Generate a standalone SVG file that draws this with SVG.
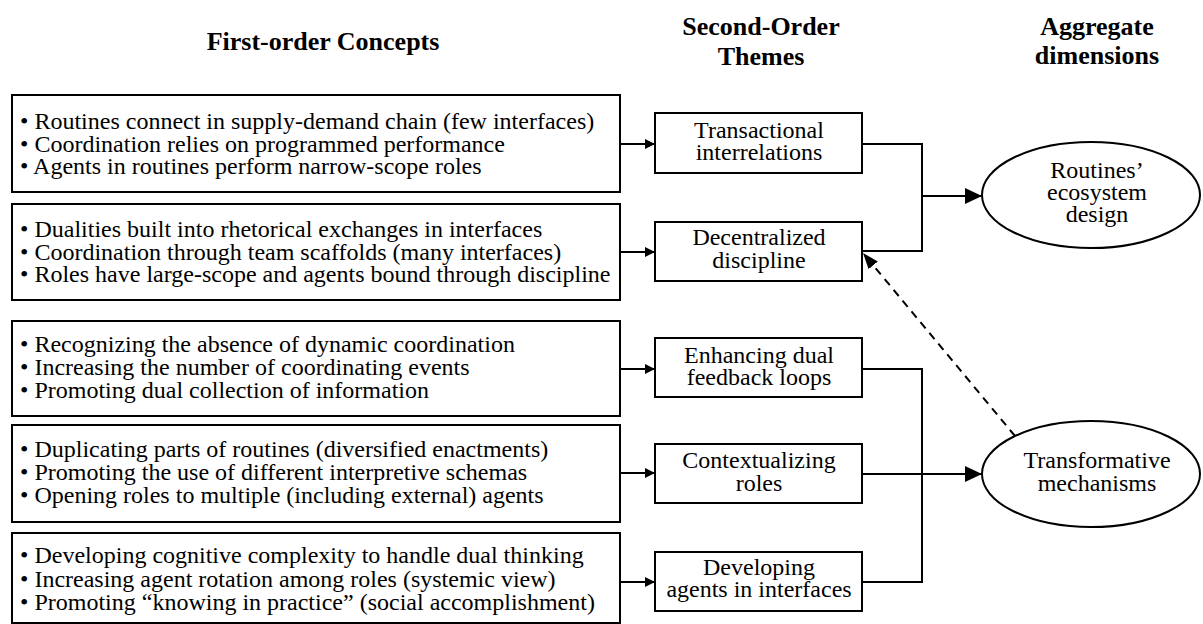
<svg xmlns="http://www.w3.org/2000/svg" width="1203" height="624" viewBox="0 0 1203 624">
  <style>
    .box { fill: #fff; stroke: #000; stroke-width: 2; }
    .ell { fill: #fff; stroke: #000; stroke-width: 2; }
    .t { font-family: "Liberation Serif", "Times New Roman", serif; font-size: 24px; fill: #000; }
    .c { text-anchor: middle; }
    .h { font-family: "Liberation Serif", "Times New Roman", serif; font-size: 26px; font-weight: bold; fill: #000; text-anchor: middle; }
    .ln { fill: none; stroke: #000; stroke-width: 2; }
    .dash { fill: none; stroke: #000; stroke-width: 2; stroke-dasharray: 8 6; }
  </style>
  <defs>
    <marker id="arrSmall" viewBox="0 0 10 10" refX="10" refY="5" markerWidth="10" markerHeight="10" markerUnits="userSpaceOnUse" orient="auto">
      <path d="M0,0 L10,5 L0,10 Z" fill="#000"/>
    </marker>
    <marker id="arrBig" viewBox="0 0 17 16" refX="17" refY="8" markerWidth="17" markerHeight="16" markerUnits="userSpaceOnUse" orient="auto">
      <path d="M0,0 L17,8 L0,16 Z" fill="#000"/>
    </marker>
    <marker id="arrDash" viewBox="0 0 16 12" refX="16" refY="6" markerWidth="16" markerHeight="12" markerUnits="userSpaceOnUse" orient="auto">
      <path d="M0,0 L16,6 L0,12 Z" fill="#000"/>
    </marker>
  </defs>

  <!-- column headings -->
  <g id="headings">
    <text class="h" x="323" y="50">First-order Concepts</text>
    <text class="h" x="761" y="35">Second-Order</text>
    <text class="h" x="761" y="65">Themes</text>
    <text class="h" x="1097" y="35">Aggregate</text>
    <text class="h" x="1097" y="64">dimensions</text>
  </g>

  <!-- first-order concept boxes -->
  <g id="concepts-1">
    <rect class="box" x="12" y="95" width="608" height="97"/>
    <text class="t" x="20" y="129">• Routines connect in supply-demand chain (few interfaces)</text>
    <text class="t" x="20" y="152">• Coordination relies on programmed performance</text>
    <text class="t" x="20" y="174">• Agents in routines perform narrow-scope roles</text>
  </g>
  <g id="concepts-2">
    <rect class="box" x="12" y="204" width="608" height="96"/>
    <text class="t" x="20" y="237">• Dualities built into rhetorical exchanges in interfaces</text>
    <text class="t" x="20" y="260">• Coordination through team scaffolds (many interfaces)</text>
    <text class="t" x="20" y="282">• Roles have large-scope and agents bound through discipline</text>
  </g>
  <g id="concepts-3">
    <rect class="box" x="12" y="321" width="608" height="95"/>
    <text class="t" x="20" y="352">• Recognizing the absence of dynamic coordination</text>
    <text class="t" x="20" y="375">• Increasing the number of coordinating events</text>
    <text class="t" x="20" y="398">• Promoting dual collection of information</text>
  </g>
  <g id="concepts-4">
    <rect class="box" x="12" y="425" width="608" height="97"/>
    <text class="t" x="20" y="457">• Duplicating parts of routines (diversified enactments)</text>
    <text class="t" x="20" y="480">• Promoting the use of different interpretive schemas</text>
    <text class="t" x="20" y="503">• Opening roles to multiple (including external) agents</text>
  </g>
  <g id="concepts-5">
    <rect class="box" x="12" y="533" width="608" height="90"/>
    <text class="t" x="20" y="563">• Developing cognitive complexity to handle dual thinking</text>
    <text class="t" x="20" y="587">• Increasing agent rotation among roles (systemic view)</text>
    <text class="t" x="20" y="610">• Promoting “knowing in practice” (social accomplishment)</text>
  </g>

  <!-- second-order themes -->
  <g id="theme-transactional">
    <rect class="box" x="655" y="113" width="207" height="60"/>
    <text class="t c" x="759" y="138">Transactional</text>
    <text class="t c" x="759" y="160">interrelations</text>
  </g>
  <g id="theme-decentralized">
    <rect class="box" x="655" y="222" width="207" height="59"/>
    <text class="t c" x="759" y="245">Decentralized</text>
    <text class="t c" x="759" y="268">discipline</text>
  </g>
  <g id="theme-feedback">
    <rect class="box" x="655" y="338" width="207" height="59"/>
    <text class="t c" x="759" y="363">Enhancing dual</text>
    <text class="t c" x="759" y="385">feedback loops</text>
  </g>
  <g id="theme-contextualizing">
    <rect class="box" x="655" y="444" width="207" height="59"/>
    <text class="t c" x="759" y="468">Contextualizing</text>
    <text class="t c" x="759" y="491">roles</text>
  </g>
  <g id="theme-agents">
    <rect class="box" x="655" y="552" width="207" height="59"/>
    <text class="t c" x="759" y="575">Developing</text>
    <text class="t c" x="759" y="597">agents in interfaces</text>
  </g>

  <!-- aggregate dimensions -->
  <g id="dim-ecosystem">
    <ellipse class="ell" cx="1091" cy="195" rx="109" ry="53"/>
    <text class="t c" x="1097" y="178">Routines’</text>
    <text class="t c" x="1097" y="200">ecosystem</text>
    <text class="t c" x="1097" y="222">design</text>
  </g>
  <g id="dim-transformative">
    <ellipse class="ell" cx="1091" cy="474" rx="109" ry="53"/>
    <text class="t c" x="1097" y="468">Transformative</text>
    <text class="t c" x="1097" y="491">mechanisms</text>
  </g>

  <!-- connectors -->
  <g id="connectors">
    <line class="ln" x1="620" y1="144" x2="655" y2="144" marker-end="url(#arrSmall)"/>
    <line class="ln" x1="620" y1="252" x2="655" y2="252" marker-end="url(#arrSmall)"/>
    <line class="ln" x1="620" y1="369" x2="655" y2="369" marker-end="url(#arrSmall)"/>
    <line class="ln" x1="620" y1="473" x2="655" y2="473" marker-end="url(#arrSmall)"/>
    <line class="ln" x1="620" y1="582" x2="655" y2="582" marker-end="url(#arrSmall)"/>

    <polyline class="ln" points="862,144 922,144 922,251 862,251"/>
    <line class="ln" x1="922" y1="196" x2="982" y2="196" marker-end="url(#arrBig)"/>

    <polyline class="ln" points="862,369 922,369 922,582 862,582"/>
    <line class="ln" x1="862" y1="474" x2="922" y2="474"/>
    <line class="ln" x1="922" y1="474" x2="982" y2="474" marker-end="url(#arrBig)"/>

    <line class="dash" x1="1015" y1="436" x2="863" y2="253" marker-end="url(#arrDash)"/>
  </g>
</svg>
